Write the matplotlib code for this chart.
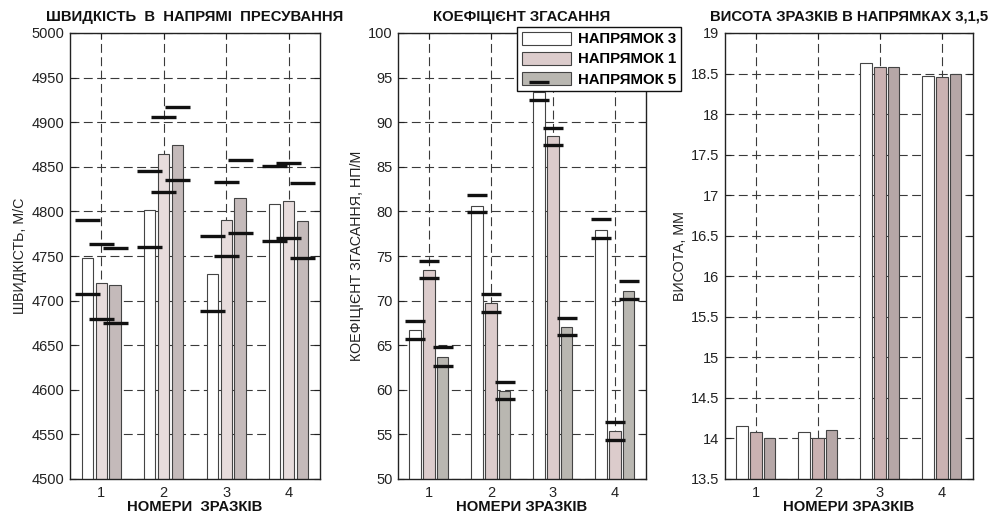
import matplotlib
matplotlib.use("Agg")
import matplotlib.pyplot as plt
import numpy as np

plt.rcParams["font.family"] = ["Liberation Sans", "DejaVu Sans"]

samples = [1, 2, 3, 4]
directions = ["НАПРЯМОК 3", "НАПРЯМОК 1", "НАПРЯМОК 5"]

# швидкість в напрямі пресування, м/с
speed_d3 = [4748, 4802, 4730, 4808]
speed_d1 = [4720, 4864, 4790, 4812]
speed_d5 = [4717, 4874, 4815, 4789]
speed_hi_d3 = [4790, 4845, 4772, 4851]
speed_lo_d3 = [4707, 4760, 4688, 4767]
speed_hi_d1 = [4763, 4906, 4833, 4854]
speed_lo_d1 = [4679, 4822, 4750, 4770]
speed_hi_d5 = [4759, 4917, 4858, 4832]
speed_lo_d5 = [4675, 4835, 4776, 4748]

# коефіцієнт згасання, нп/м
atten_d3 = [66.7, 80.6, 93.4, 77.9]
atten_d1 = [73.4, 69.7, 88.5, 55.4]
atten_d5 = [63.7, 59.9, 67.0, 71.1]
atten_hi_d3 = [67.7, 81.8, 94.5, 79.1]
atten_lo_d3 = [65.7, 79.9, 92.5, 77.0]
atten_hi_d1 = [74.4, 70.7, 89.4, 56.4]
atten_lo_d1 = [72.5, 68.7, 87.4, 54.4]
atten_hi_d5 = [64.8, 60.9, 68.1, 72.2]
atten_lo_d5 = [62.7, 59.0, 66.1, 70.2]

# висота зразків, мм
height_d3 = [14.15, 14.08, 18.63, 18.47]
height_d1 = [14.08, 14.00, 18.58, 18.46]
height_d5 = [14.01, 14.11, 18.58, 18.49]

W, H = 990, 514
fig = plt.figure(figsize=(W / 100, H / 100), dpi=100)


def px_axes(left, right, top, bottom):
    return fig.add_axes([left / W, 1 - bottom / H, (right - left) / W, (bottom - top) / H])


def style(ax, ylim, yticks, ytlabels, title, ylabel, xlabel):
    ax.set_xlim(0.5, 4.5)
    ax.set_ylim(*ylim)
    ax.set_xticks(samples)
    ax.set_yticks(yticks)
    ax.set_yticklabels(ytlabels)
    ax.set_axisbelow(True)
    ax.grid(True, color="#3a3a3a", linewidth=0.8, linestyle=(0, (8, 4)))
    ax.tick_params(direction="in", top=True, right=True, length=4, width=0.8,
                   labelsize=10.5, colors="#222222", pad=4)
    ax.tick_params(axis="x", pad=5)
    for s in ax.spines.values():
        s.set_linewidth(1.0)
        s.set_color("#222222")
    ax.set_title(title, fontsize=10.7, fontweight="bold", pad=9, color="#111111")
    ax.set_xlabel(xlabel, fontsize=10.7, fontweight="bold", labelpad=0,
                  color="#111111")
    ax.set_ylabel(ylabel, fontsize=10.3, color="#222222", labelpad=3)


def bars(ax, series, colors, errs=None, seg=0.4):
    x = np.array(samples, dtype=float)
    offs = [-0.225, 0.0, 0.22]
    handles = []
    for i, vals in enumerate(series):
        b = ax.bar(x + offs[i], vals, width=0.18, color=colors[i], edgecolor="#444444",
                   linewidth=0.8, zorder=2, label=directions[i])
        handles.append(b)
        if errs is not None:
            hi, lo = errs[i]
            for yy in (hi, lo):
                ax.hlines(yy, x + offs[i] - seg / 2, x + offs[i] + seg / 2,
                          color="#111111", linewidth=2.4, zorder=7)
    return handles


# панель 1
ax1 = px_axes(70, 320, 33, 479)
bars(ax1, [speed_d3, speed_d1, speed_d5], ["white", "#e7dcdc", "#c4baba"],
     errs=[(speed_hi_d3, speed_lo_d3), (speed_hi_d1, speed_lo_d1), (speed_hi_d5, speed_lo_d5)],
     seg=0.4)
yt1 = list(range(4500, 5001, 50))
style(ax1, (4500, 5000), yt1, [str(v) for v in yt1],
      "ШВИДКІСТЬ  В  НАПРЯМІ  ПРЕСУВАННЯ", "ШВИДКІСТЬ, М/С", "НОМЕРИ  ЗРАЗКІВ")

# панель 2
ax2 = px_axes(398, 646, 33, 479)
bars(ax2, [atten_d3, atten_d1, atten_d5], ["white", "#dccccc", "#b9b7b1"],
     errs=[(atten_hi_d3, atten_lo_d3), (atten_hi_d1, atten_lo_d1), (atten_hi_d5, atten_lo_d5)],
     seg=0.32)
yt2 = list(range(50, 101, 5))
style(ax2, (50, 100), yt2, [str(v) for v in yt2],
      "КОЕФІЦІЄНТ ЗГАСАННЯ", "КОЕФІЦІЄНТ ЗГАСАННЯ, НП/М", "НОМЕРИ ЗРАЗКІВ")
leg = ax2.legend(loc="upper left", bbox_to_anchor=(517 / W, 1 - 27 / H),
                 bbox_transform=fig.transFigure, borderaxespad=0, fancybox=False,
                 edgecolor="#111111", framealpha=1, handlelength=3.3, handleheight=1.0,
                 labelspacing=0.35, borderpad=0.3, handletextpad=0.45,
                 prop={"weight": "bold", "size": 10.8})
leg.get_frame().set_linewidth(1.0)
leg.set_zorder(5)

# панель 3
ax3 = px_axes(725, 973, 33, 479)
bars(ax3, [height_d3, height_d1, height_d5], ["white", "#cab2b2", "#b6a7a7"])
yt3 = [13.5 + 0.5 * k for k in range(12)]
style(ax3, (13.5, 19), yt3, ["%g" % v for v in yt3],
      "ВИСОТА ЗРАЗКІВ В НАПРЯМКАХ 3,1,5", "ВИСОТА, ММ", "НОМЕРИ ЗРАЗКІВ")

fig.savefig("out.png", dpi=100)
